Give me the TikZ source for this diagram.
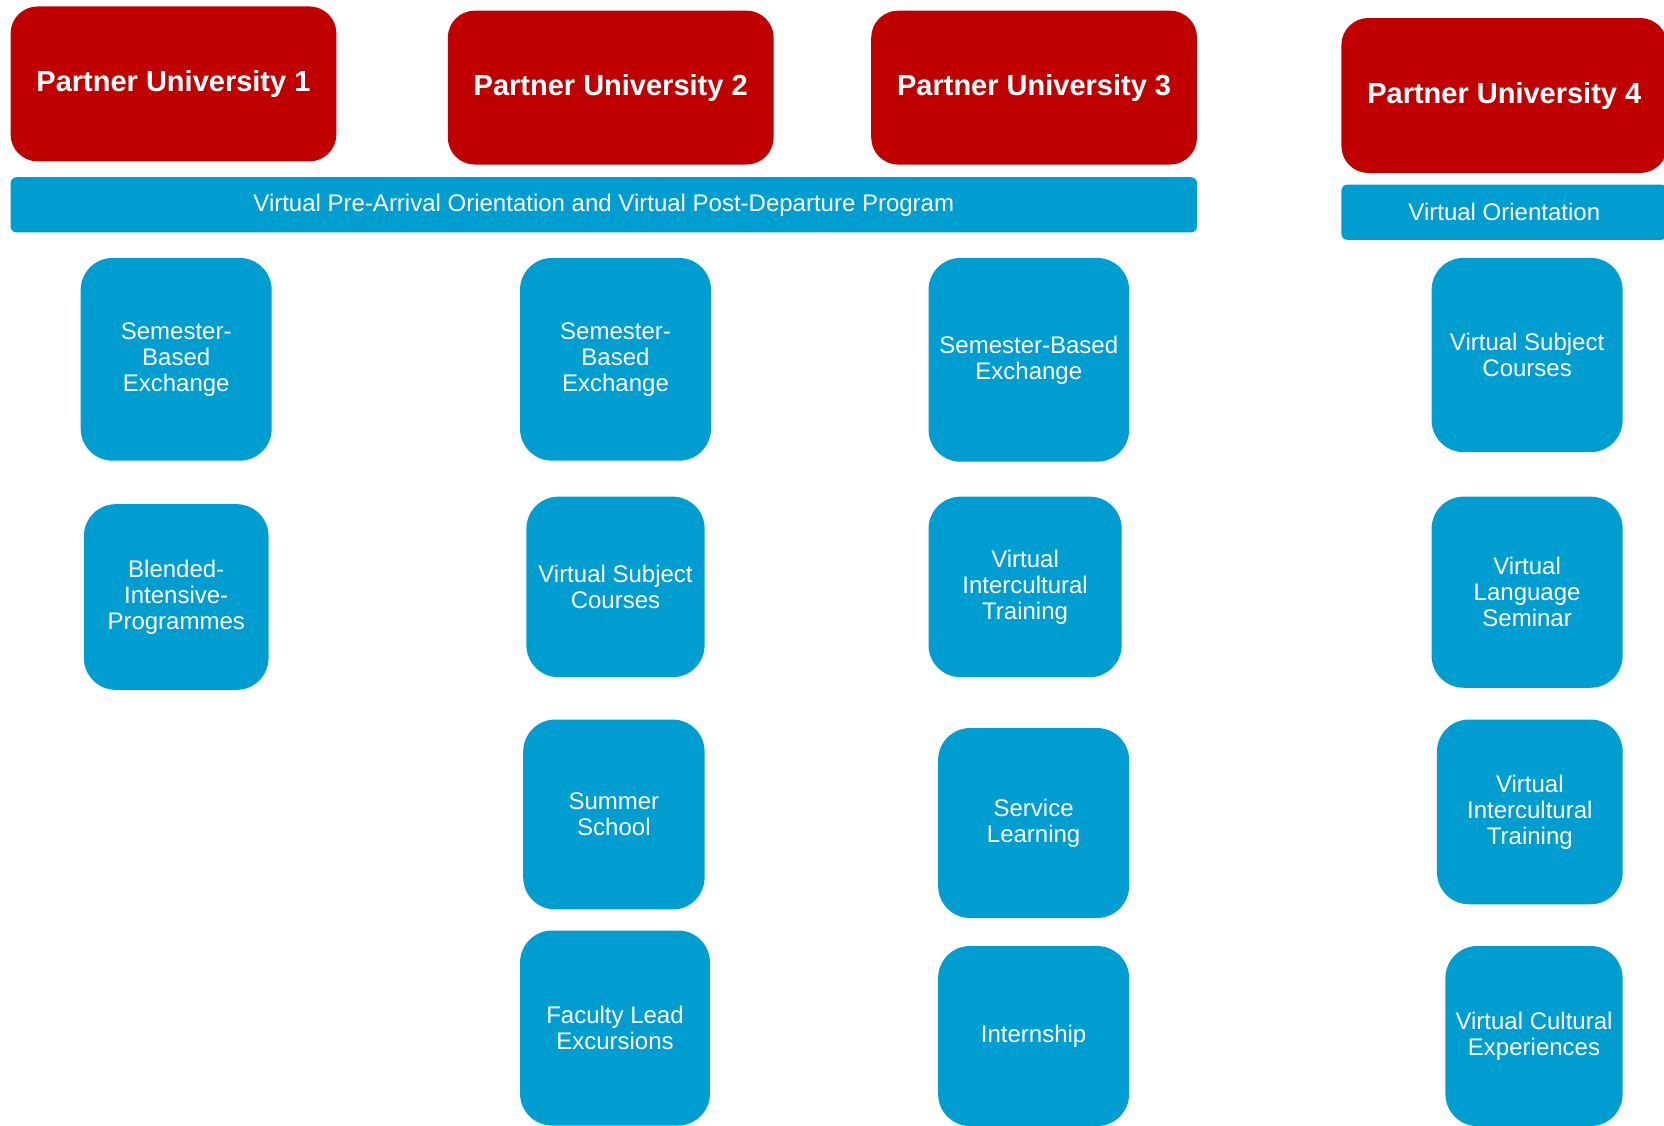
\documentclass[tikz,border=0pt]{standalone}
\usepackage{fontspec}
\setmainfont{Liberation Sans}
\usepackage{tikz}
\usetikzlibrary{positioning}

\definecolor{unired}{RGB}{192,0,0}
\definecolor{uniblue}{RGB}{0,157,209}

\begin{document}
\begin{tikzpicture}[x=1pt,y=-1pt,
        uni/.style={fill=unired, rounded corners=27pt, inner sep=0pt, text=white,
            font=\fontsize{29}{32}\selectfont\bfseries},
        bar/.style={fill=uniblue, rounded corners=6pt, inner sep=0pt, text=white,
            font=\fontsize{24}{26}\selectfont},
        card/.style={fill=uniblue, rounded corners=32pt, inner sep=0pt, text=white,
            align=center, font=\fontsize{24}{26}\selectfont}]
        \useasboundingbox (0,0) rectangle (1664,1125);
        % partner universities
        \node[uni, minimum width=325.8pt, minimum height=154.9pt] (pu1) at (173.5,83.9) {Partner University 1};
        \node[uni, minimum width=325.8pt, minimum height=153.9pt] (pu2) at (610.7,87.6) {Partner University 2};
        \node[uni, minimum width=325.8pt, minimum height=153.9pt] (pu3) at (1034.1,87.6) {Partner University 3};
        \node[uni, minimum width=325.8pt, minimum height=155pt] (pu4) at (1504.3,95.5) {Partner University 4};
        % orientation bars
        \node[bar, minimum width=1186.4pt, minimum height=55.2pt] (prepost) at (603.8,204.8) {Virtual Pre-Arrival Orientation and Virtual Post-Departure Program};
        \node[bar, minimum width=325.8pt, minimum height=55.2pt] (orient) at (1504.3,212.2) {Virtual Orientation};
        % university 1
        \node[card, minimum width=191pt, minimum height=202.7pt] (sbe1) at (176.2,359.3) {Semester-\\Based\\Exchange};
        \node[card, minimum width=184.7pt, minimum height=185.7pt] (bip1) at (176.2,597.0) {Blended-\\Intensive-\\Programmes};
        % university 2
        \node[card, minimum width=191pt, minimum height=202.7pt] (sbe2) at (615.5,359.3) {Semester-\\Based\\Exchange};
        \node[card, minimum width=178.2pt, minimum height=180.5pt] (vsc2) at (615.5,586.9) {Virtual Subject\\Courses};
        \node[card, minimum width=181.4pt, minimum height=189.9pt] (sum2) at (613.9,814.5) {Summer\\School};
        \node[card, minimum width=189.9pt, minimum height=195pt] (fle2) at (615.0,1028) {Faculty Lead\\Excursions};
        % university 3
        \node[card, minimum width=200.6pt, minimum height=203.7pt] (sbe3) at (1028.8,359.8) {Semester-Based\\Exchange};
        \node[card, minimum width=193.1pt, minimum height=180.5pt] (vit3) at (1025.1,586.9) {Virtual\\Intercultural\\Training};
        \node[card, minimum width=191pt, minimum height=189.9pt] (svl3) at (1033.6,823.0) {Service\\Learning};
        \node[card, minimum width=191pt, minimum height=180pt] (int3) at (1033.6,1036) {Internship};
        % university 4
        \node[card, minimum width=191pt, minimum height=194.2pt] (vsc4) at (1527.1,355.0) {Virtual Subject\\Courses};
        \node[card, minimum width=191pt, minimum height=191.1pt] (vls4) at (1527.1,592.2) {Virtual\\Language\\Seminar};
        \node[card, minimum width=185.7pt, minimum height=184.7pt] (vit4) at (1529.8,811.9) {Virtual\\Intercultural\\Training};
        \node[card, minimum width=177.2pt, minimum height=180pt] (vce4) at (1534.0,1036) {Virtual Cultural\\Experiences};
    \end{tikzpicture}
\end{document}
